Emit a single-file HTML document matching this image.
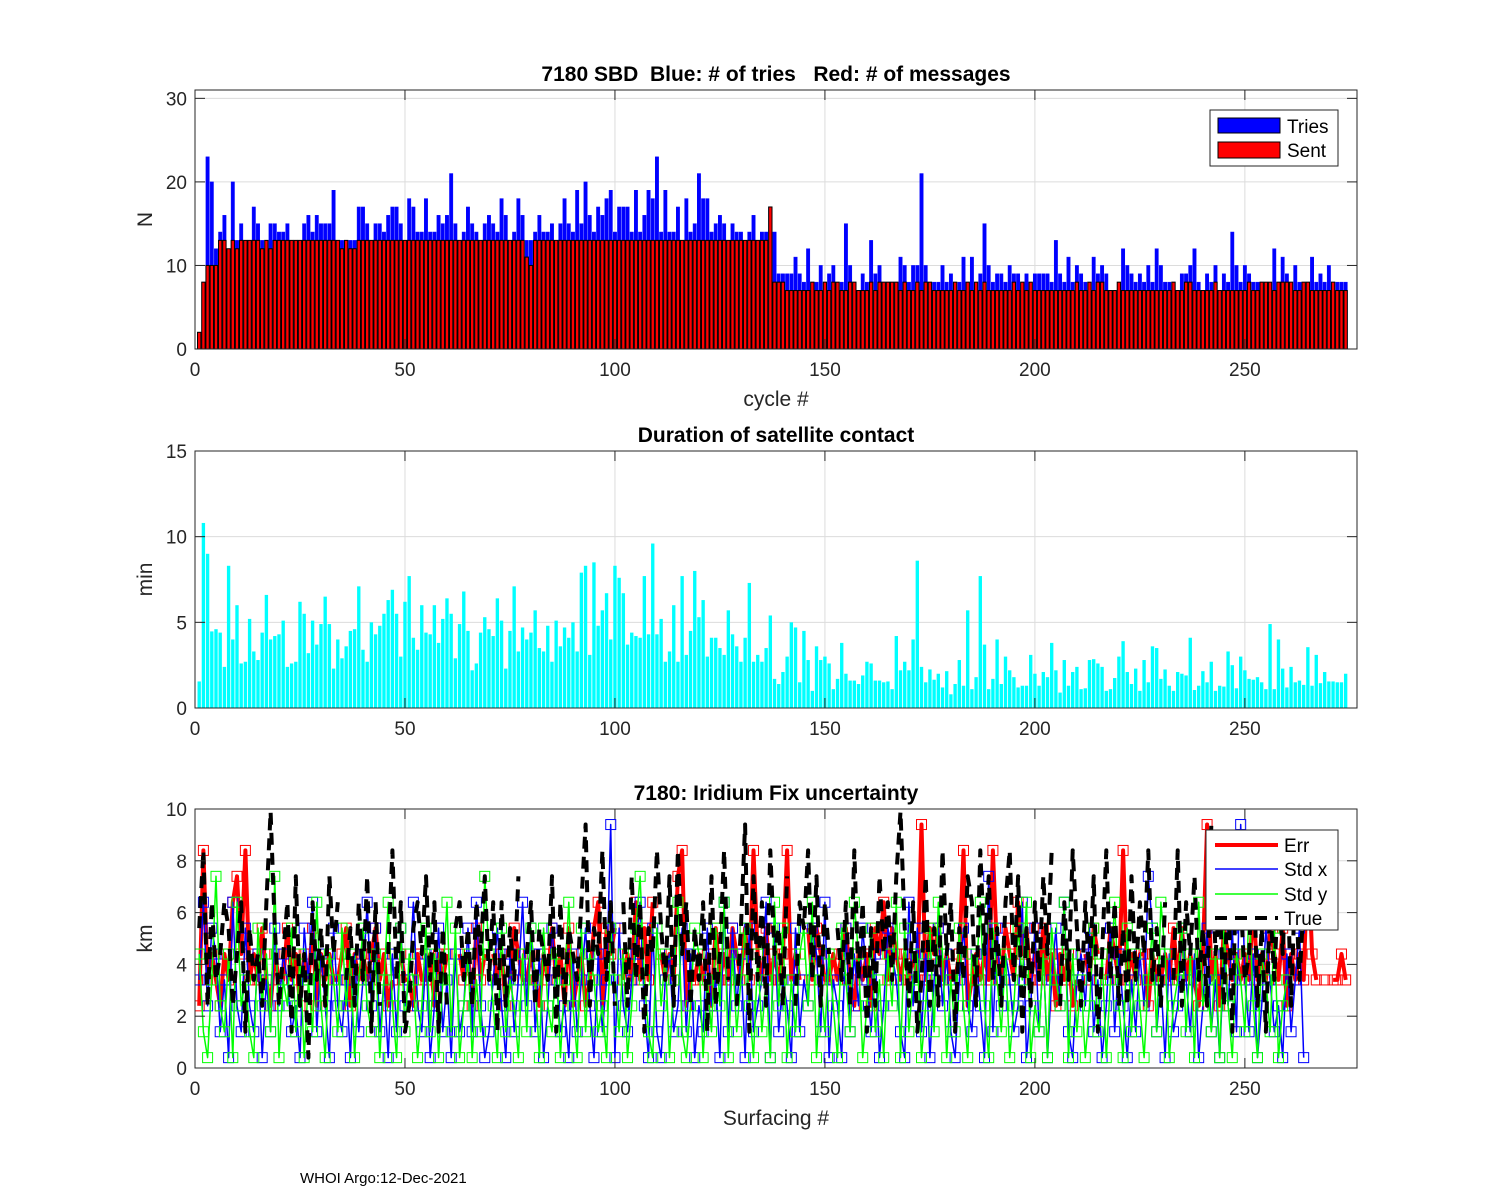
<!DOCTYPE html>
<html><head><meta charset="utf-8"><style>
html,body{margin:0;padding:0;background:#fff;}
svg{display:block;font-family:"Liberation Sans",Arial,sans-serif;}
text{white-space:pre;}
</style></head><body>
<svg id="fig" width="1500" height="1200" viewBox="0 0 1500 1200" xmlns="http://www.w3.org/2000/svg">
<rect x="0" y="0" width="1500" height="1200" fill="#fff"/>
<text x="300" y="1183" font-size="15">WHOI Argo:12-Dec-2021</text>
</svg>
<script>
// ---- Data ----
const tries = [2,8,23,20,12,14,16,12,20,13,15,13,13,17,15,13,13,15,15,14,14,15,13,13,13,15,16,14,16,15,15,15,19,13,13,13,13,13,17,17,15,13,15,15,14,16,17,17,15,13,18,17,14,14,18,14,14,16,15,16,21,15,13,14,17,15,14,13,15,16,15,14,18,16,13,14,18,16,13,13,14,16,14,14,15,13,15,18,15,14,19,15,20,16,14,17,16,18,19,14,17,17,17,14,19,14,16,19,18,23,14,19,14,14,17,13,18,14,15,21,18,18,14,15,16,15,13,15,14,14,13,14,16,13,14,14,17,14,9,9,9,9,11,9,8,12,8,8,10,8,9,10,7,8,15,10,8,7,9,8,13,9,10,8,8,8,8,11,10,8,10,10,21,10,8,8,8,10,8,9,7,8,11,8,11,7,9,15,10,8,9,9,8,10,9,9,8,9,7,9,9,9,9,8,13,9,8,11,8,10,9,8,7,11,9,10,9,7,7,7,12,10,9,8,9,8,10,8,12,10,8,8,8,7,9,9,10,12,8,7,9,8,10,7,9,8,14,10,8,10,9,8,8,8,7,7,12,8,11,9,8,10,8,7,8,11,8,9,8,10,8,8,8,8];
const sent = [2,8,10,10,10,13,13,12,13,12,13,13,13,13,13,12,13,12,13,13,13,13,13,13,13,13,13,13,13,13,13,13,13,13,12,13,12,12,13,13,13,13,13,13,13,13,13,13,13,13,13,13,13,13,13,13,13,13,13,13,13,13,13,13,13,13,13,13,13,13,13,13,13,13,13,13,13,13,11,10,13,13,13,13,13,13,13,13,13,13,13,13,13,13,13,13,13,13,13,13,13,13,13,13,13,13,13,13,13,13,13,13,13,13,13,13,13,13,13,13,13,13,13,13,13,13,13,13,13,13,13,13,13,13,13,13,17,8,8,8,7,7,7,7,7,7,8,7,7,8,7,8,8,7,7,8,8,7,7,7,8,7,8,8,8,8,8,7,8,7,7,8,7,8,8,7,7,7,7,7,8,7,7,8,7,8,7,8,7,7,7,7,7,7,8,7,8,7,8,7,7,7,7,7,7,7,7,7,7,8,7,7,8,7,8,8,7,7,7,8,7,7,7,7,7,7,7,7,7,7,7,7,8,7,7,8,8,7,7,7,7,7,8,7,7,7,7,7,7,7,8,7,7,8,8,8,7,8,8,8,8,7,7,8,8,7,7,7,7,7,8,7,7,7];
const duration = [1.55,10.8,9.0,4.47,4.6,4.4,2.4,8.3,4.0,6.0,2.6,2.7,5.2,3.3,2.8,4.4,6.6,4.0,4.2,4.3,5.1,2.4,2.6,2.7,6.2,5.5,3.2,5.1,3.7,4.9,6.5,4.9,2.3,4.0,2.9,3.6,4.5,4.6,7.1,3.4,2.7,5.0,4.3,4.8,5.5,6.3,6.9,5.5,3.0,6.2,7.7,4.1,3.4,6.0,4.4,4.3,6.0,3.8,5.2,6.4,5.5,2.9,4.9,6.8,4.5,2.2,2.6,4.4,5.3,4.6,4.2,6.4,5.1,2.3,4.5,7.1,3.3,4.7,4.0,4.4,5.7,3.5,3.3,4.8,2.7,5.1,3.6,4.7,4.1,5.0,3.3,7.9,8.3,3.1,8.5,4.8,5.7,6.7,4.0,8.3,7.6,6.7,3.7,4.4,4.2,4.1,7.7,4.3,9.6,4.3,5.2,2.7,3.3,6.0,2.7,7.7,3.1,4.5,8.0,5.3,6.3,3.0,4.1,4.1,3.5,3.1,5.7,4.3,3.6,2.7,4.1,7.3,2.7,3.1,2.7,3.5,5.4,1.7,1.4,2.1,3.0,5.0,4.7,1.5,4.5,2.8,1.0,3.6,2.8,3.0,2.6,1.1,1.7,3.8,2.0,1.6,1.6,1.4,1.9,2.7,2.6,1.6,1.6,1.5,1.55,1.1,4.2,2.2,2.7,2.2,4.0,8.6,2.4,1.5,2.25,1.65,2.0,1.2,2.15,0.8,1.4,2.8,1.3,5.7,1.1,1.8,7.7,3.7,1.1,1.7,4.0,1.4,3.0,2.2,1.8,1.2,1.3,1.3,3.1,2.0,1.3,2.1,1.8,3.8,2.2,0.9,2.8,1.3,2.1,2.4,1.1,1.15,2.8,2.85,2.6,2.4,1.0,1.1,1.75,3.0,3.9,2.1,1.4,2.3,1.0,2.8,1.5,3.6,3.5,1.7,2.25,1.3,1.0,2.1,2.0,1.9,4.1,1.05,1.3,2.15,1.5,2.7,1.0,1.3,1.25,3.3,2.5,1.15,3.0,2.2,1.7,1.65,1.8,1.5,1.1,4.9,1.1,4.0,2.3,1.2,2.4,1.5,1.6,1.35,3.55,1.3,3.1,1.45,2.1,1.55,1.55,1.5,1.5,2.0];
// Fix-uncertainty series, one char per surfacing (km, 'a'=10, 'n'=missing)
const errStr  = "2834324367 4834353243 3534243524 3433452434 3453423n43 3243342434 nn4342534n 4342354334 3243534252 3423562545 n34363536n 4343782334 3425343543 5384353434 8343n53543 3434532434 2546354343 4393545343 3482343438 4354364534 3534243423 n4354n3543 8343442433 4353534324 9342543434 3634354352 4343843n3n 3343";
const stdxStr = "3625413062 1521403152 4312053614 2052130413 6251304152 3621402513 0412516201 3520413625 1402531204 1352041390 5213462051 0341251402 1523061524 0512360513 2051325416 0320514253 1402543106 2514035241 0352142071 5243126025 1403526103 4251302514 2031427513 0412531402 5130425193 1402531204 1350n";
const stdyStr = "4103721406 2310524170 3251403162 0431524035 2140362051 4302514036 1502403174 2051320415 3052140362 0514312053 1402573105 2403610254 0315260413 5204130625 0314526031 4205316402 5130426051 3402516403 1520436205 3140253602 1405326041 3025140362 0514203516 4023514062 3140520431 6204315023 n";
const trueStr = "5826346524 6153426a52 4617240635 2746n35263 7162n48361 2564736152 n563526473 6162537n46 2543716254 3692548362 n627361548 5372846253 6172483n25 9173628452 7n26583726 4n53628361 5274637a52 6137252846 1537628473 5268371526 3748n26385 2637148362 5273648352 6n38264735 2946271863 4825163748 2736n3";
const xTicks = [0,50,100,150,200,250];
const yTicksTop = [0,10,20,30];
const yTicksMid = [0,5,10,15];
const yTicksBot = [0,2,4,6,8,10];

function parseSeries(s){
  const out=[];
  for(const ch of s.replace(/\s/g,'')){
    if(ch==='n') out.push(null);
    else if(ch==='a') out.push(9.9);
    else out.push(+ch + 0.4);
  }
  return out;
}
const errV=parseSeries(errStr), stdxV=parseSeries(stdxStr), stdyV=parseSeries(stdyStr), trueV=parseSeries(trueStr);

const NS="http://www.w3.org/2000/svg";
const svg=document.getElementById('fig');
function el(tag, attrs, parent){
  const e=document.createElementNS(NS,tag);
  for(const k in attrs) e.setAttribute(k,attrs[k]);
  (parent||svg).appendChild(e);
  return e;
}
const XL=195, XR=1357, XMAX=276.7;
const xs = v => XL + (XR-XL)*v/XMAX;
function makeY(top,bot,ymax){ return v => bot - (bot-top)*v/ymax; }

function axes(name, top, bot, ymax, yt){
  const g=el('g',{});
  
  
  const ys=makeY(top,bot,ymax);
  el('rect',{x:XL,y:top,width:XR-XL,height:bot-top,fill:'#fff'},g);
  xTicks.forEach(t=>{ if(t>0) el('line',{x1:xs(t),x2:xs(t),y1:top,y2:bot,stroke:'#dcdcdc','stroke-width':1},g); });
  yt.forEach(t=>{ if(t>0&&t<ymax) el('line',{x1:XL,x2:XR,y1:ys(t),y2:ys(t),stroke:'#dcdcdc','stroke-width':1},g); });
  return {g,ys};
}
function frame(g, top, bot, ymax, yt, title, ylab, xlab, name){
  const ys=makeY(top,bot,ymax);
  el('rect',{x:XL,y:top,width:XR-XL,height:bot-top,fill:'none',stroke:'#262626','stroke-width':1},g);
  xTicks.forEach(t=>{
    el('line',{x1:xs(t),x2:xs(t),y1:bot,y2:bot-10,stroke:'#262626'},g);
    el('line',{x1:xs(t),x2:xs(t),y1:top,y2:top+10,stroke:'#262626'},g);
    const tx=el('text',{x:xs(t),y:bot+27,'text-anchor':'middle','font-size':19,fill:'#262626'},g);
    
    
    tx.textContent=t;
  });
  yt.forEach(t=>{
    el('line',{x1:XL,x2:XL+10,y1:ys(t),y2:ys(t),stroke:'#262626'},g);
    el('line',{x1:XR,x2:XR-10,y1:ys(t),y2:ys(t),stroke:'#262626'},g);
    const tx=el('text',{x:XL-8,y:ys(t)+7,'text-anchor':'end','font-size':19,fill:'#262626'},g);
    
    
    tx.textContent=t;
  });
  const ti=el('text',{x:776,y:top-9,'text-anchor':'middle','font-size':21,'font-weight':'bold',fill:'#000'},g);
  
  
  ti.textContent=title;
  const yl=el('text',{x:0,y:0,'text-anchor':'middle','font-size':21,fill:'#262626',transform:`translate(152,${(top+bot)/2}) rotate(-90)`},g);
  
  
  yl.textContent=ylab;
  if(xlab){
    const xl=el('text',{x:776,y:bot+57,'text-anchor':'middle','font-size':21,fill:'#262626'},g);
    
    
    xl.textContent=xlab;
  }
}

// ---- Top: tries/sent ----
{
  const top=90,bot=349,ymax=31;
  const {g,ys}=axes('sbd-chart',top,bot,ymax,yTicksTop);
  const bw=(XR-XL)/XMAX*0.8;
  tries.forEach((v,i)=>{
    const c=i+1;
    const r=el('rect',{x:xs(c)-bw/2,y:ys(v),width:bw,height:bot-ys(v),fill:'#0000ff',stroke:'#0000ff','stroke-width':0.5},g);
    
    
  });
  sent.forEach((v,i)=>{
    const c=i+1;
    const r=el('rect',{x:xs(c)-bw/2,y:ys(v),width:bw,height:bot-ys(v),fill:'#ff0000',stroke:'#000','stroke-width':1},g);
    
    
  });
  frame(g,top,bot,ymax,yTicksTop,'7180 SBD  Blue: # of tries   Red: # of messages','N','cycle #','sbd');
  const lg=el('g',{},g);
  
  
  el('rect',{x:1210,y:110,width:128,height:56,fill:'#fff',stroke:'#262626'},lg);
  el('rect',{x:1218,y:118,width:62,height:15,fill:'#0000ff',stroke:'#000'},lg);
  el('rect',{x:1218,y:142,width:62,height:16,fill:'#ff0000',stroke:'#000'},lg);
  const t1=el('text',{x:1287,y:133,'font-size':19},lg); t1.textContent='Tries';
  
  
  const t2=el('text',{x:1287,y:157,'font-size':19},lg); t2.textContent='Sent';
  
  
}
// ---- Middle: duration ----
{
  const top=451,bot=708,ymax=15;
  const {g,ys}=axes('duration-chart',top,bot,ymax,yTicksMid);
  const bw=(XR-XL)/XMAX*0.8;
  duration.forEach((v,i)=>{
    const c=i+1;
    const r=el('rect',{x:xs(c)-bw/2,y:ys(v),width:bw,height:bot-ys(v),fill:'#00ffff'},g);
    
    
  });
  frame(g,top,bot,ymax,yTicksMid,'Duration of satellite contact','min',null,'duration');
}
// ---- Bottom: fix uncertainty ----
{
  const top=809,bot=1068,ymax=10;
  const {g,ys}=axes('fix-chart',top,bot,ymax,yTicksBot);
  const clip=el('clipPath',{id:'clipB'},g);
  el('rect',{x:XL,y:top,width:XR-XL,height:bot-top+8},clip);
  const pg=el('g',{'clip-path':'url(#clipB)'},g);
  function series(vals,color,width,dash,markers,name){
    let d='', pen=false;
    vals.forEach((v,i)=>{
      if(v===null){pen=false;return;}
      d+=(pen?'L':'M')+xs(i+1).toFixed(1)+' '+ys(v).toFixed(1)+' ';
      pen=true;
    });
    const p=el('path',{d,fill:'none',stroke:color,'stroke-width':width,'stroke-linejoin':'round'},pg);
    if(dash) p.setAttribute('stroke-dasharray',dash);
    
    
    if(markers){
      vals.forEach((v,i)=>{
        if(v===null) return;
        const m=el('rect',{x:xs(i+1)-5,y:ys(v)-5,width:10,height:10,fill:'none',stroke:color,'stroke-width':1},pg);
        
        
      });
    }
  }
  series(errV,'#ff0000',4,null,true,'err');
  series(stdxV,'#0000ff',1.5,null,true,'std-x');
  series(stdyV,'#00ff00',1.5,null,true,'std-y');
  series(trueV,'#000',4,'12 8',false,'true');
  frame(g,top,bot,ymax,yTicksBot,'7180: Iridium Fix uncertainty','km','Surfacing #','fix');
  const lg=el('g',{},g);
  
  
  el('rect',{x:1206,y:830,width:132,height:100,fill:'#fff',stroke:'#262626'},lg);
  const items=[['Err','#ff0000',4,null,845],['Std x','#0000ff',1.5,null,869],['Std y','#00ff00',1.5,null,894],['True','#000',4,'12 8',918]];
  items.forEach(it=>{
    const ln=el('line',{x1:1215,x2:1278,y1:it[4],y2:it[4],stroke:it[1],'stroke-width':it[2]},lg);
    if(it[3]) ln.setAttribute('stroke-dasharray',it[3]);
    const t=el('text',{x:1284,y:it[4]+7,'font-size':19},lg);
    t.textContent=it[0];
    
    
  });
}
</script>
</body></html>
